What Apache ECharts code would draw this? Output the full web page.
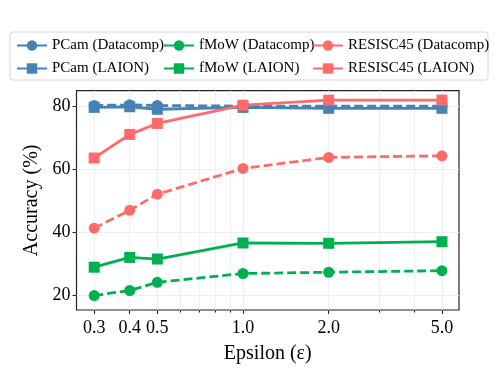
<!DOCTYPE html>
<html lang="en">
<head>
    <meta charset="UTF-8">
    <title>Accuracy vs Epsilon</title>
    <style>
        html, body { margin: 0; padding: 0; background: #fff; }
        #box { width: 498px; height: 374px; }
    </style>
    <script src="https://cdn.jsdelivr.net/npm/echarts@6/dist/echarts.min.js"></script>
</head>
<body>
    <div id="box"></div>
    <script>
        // data
        var epsilons = [0.3, 0.4, 0.5, 1.0, 2.0, 5.0];
        var pcamDatacomp = [80.2, 80.4, 80.2, 80.0, 80.0, 80.0];
        var pcamLaion = [79.6, 79.8, 79.0, 79.6, 79.3, 79.3];
        var fmowDatacomp = [19.8, 21.4, 24.0, 26.8, 27.2, 27.7];
        var fmowLaion = [28.8, 31.9, 31.4, 36.5, 36.4, 36.9];
        var resiscDatacomp = [41.2, 46.9, 52.0, 60.2, 63.7, 64.2];
        var resiscLaion = [63.5, 71.0, 74.5, 80.3, 81.9, 81.9];

        var xMajor = [0.3, 0.4, 0.5, 1.0, 2.0, 5.0];
        var xMinor = [0.6, 0.7, 0.8, 0.9, 3, 4];
        var yTicks = [20, 40, 60, 80];

        var BLUE = '#4682b4', GREEN = '#00b050', RED = '#ff6b6b';
        var FONT = '"Liberation Serif", "DejaVu Serif", serif';

        function pairs(ys) {
            return epsilons.map(function (x, i) { return [x, ys[i]]; });
        }

        function line(name, ys, color, dashed) {
            return {
                name: name,
                type: 'line',
                data: pairs(ys),
                symbol: dashed ? 'circle' : 'rect',
                symbolSize: 11,
                color: color,
                lineStyle: { width: 2.8, type: dashed ? [9, 4] : 'solid' },
                itemStyle: { color: color },
                emphasis: { disabled: true },
                animation: false
            };
        }

        function legendCol(left, names) {
            return {
                orient: 'vertical',
                left: left,
                top: 38,
                padding: 0,
                itemWidth: 30,
                itemHeight: 13,
                itemGap: 8,
                data: names,
                lineStyle: { type: 'solid' },
                textStyle: { fontFamily: FONT, fontSize: 15, color: '#000' }
            };
        }

        var chart = echarts.init(document.getElementById('box'));

        var option = {
            backgroundColor: '#fff',
            textStyle: { fontFamily: FONT },
            graphic: [{
                type: 'rect',
                shape: { x: 10, y: 32, width: 478, height: 48, r: 3 },
                style: { fill: '#fff', stroke: '#d6d6d6', lineWidth: 1 },
                z: -1
            }],
            legend: [
                legendCol(16, ['PCam (Datacomp)', 'PCam (LAION)']),
                legendCol(163, ['fMoW (Datacomp)', 'fMoW (LAION)']),
                legendCol(312, ['RESISC45 (Datacomp)', 'RESISC45 (LAION)'])
            ],
            grid: {
                left: 76.5, right: 39, top: 90.7, bottom: 64,
                show: true, borderColor: '#222', borderWidth: 1.2,
                containLabel: false
            },
            xAxis: [{
                type: 'log',
                logBase: 10,
                min: 0.26,
                max: 5.74,
                name: 'Epsilon (\u03b5)',
                nameLocation: 'middle',
                nameGap: 34,
                nameTextStyle: { fontFamily: FONT, fontSize: 20, color: '#000' },
                axisLine: { show: false },
                axisTick: { show: true, length: 4, lineStyle: { color: '#222' }, customValues: xMajor },
                axisLabel: {
                    customValues: xMajor,
                    fontFamily: FONT, fontSize: 18, color: '#000', margin: 9,
                    formatter: function (v) { return Number(v).toFixed(1); }
                },
                splitLine: { show: true, lineStyle: { color: '#efefef', width: 1 } }
            }, {
                type: 'log',
                logBase: 10,
                min: 0.26,
                max: 5.74,
                position: 'bottom',
                axisLine: { show: false },
                axisTick: { show: true, length: 2.5, lineStyle: { color: '#222' }, customValues: xMinor },
                axisLabel: { show: false, customValues: xMinor },
                splitLine: { show: true, lineStyle: { color: '#efefef', width: 1 } }
            }],
            yAxis: {
                type: 'value',
                min: 15.2,
                max: 84.9,
                name: 'Accuracy (%)',
                nameLocation: 'middle',
                nameGap: 32,
                nameTextStyle: { fontFamily: FONT, fontSize: 20, color: '#000' },
                axisLine: { show: false },
                axisTick: { show: true, length: 4, lineStyle: { color: '#222' }, customValues: yTicks },
                axisLabel: { customValues: yTicks, fontFamily: FONT, fontSize: 18, color: '#000', margin: 6 },
                splitLine: { show: true, lineStyle: { color: '#efefef', width: 1 } }
            },
            series: [
                line('PCam (Datacomp)', pcamDatacomp, BLUE, true),
                line('PCam (LAION)', pcamLaion, BLUE, false),
                line('fMoW (Datacomp)', fmowDatacomp, GREEN, true),
                line('fMoW (LAION)', fmowLaion, GREEN, false),
                line('RESISC45 (Datacomp)', resiscDatacomp, RED, true),
                line('RESISC45 (LAION)', resiscLaion, RED, false)
            ]
        };

        chart.setOption(option);
    </script>
</body>
</html>
